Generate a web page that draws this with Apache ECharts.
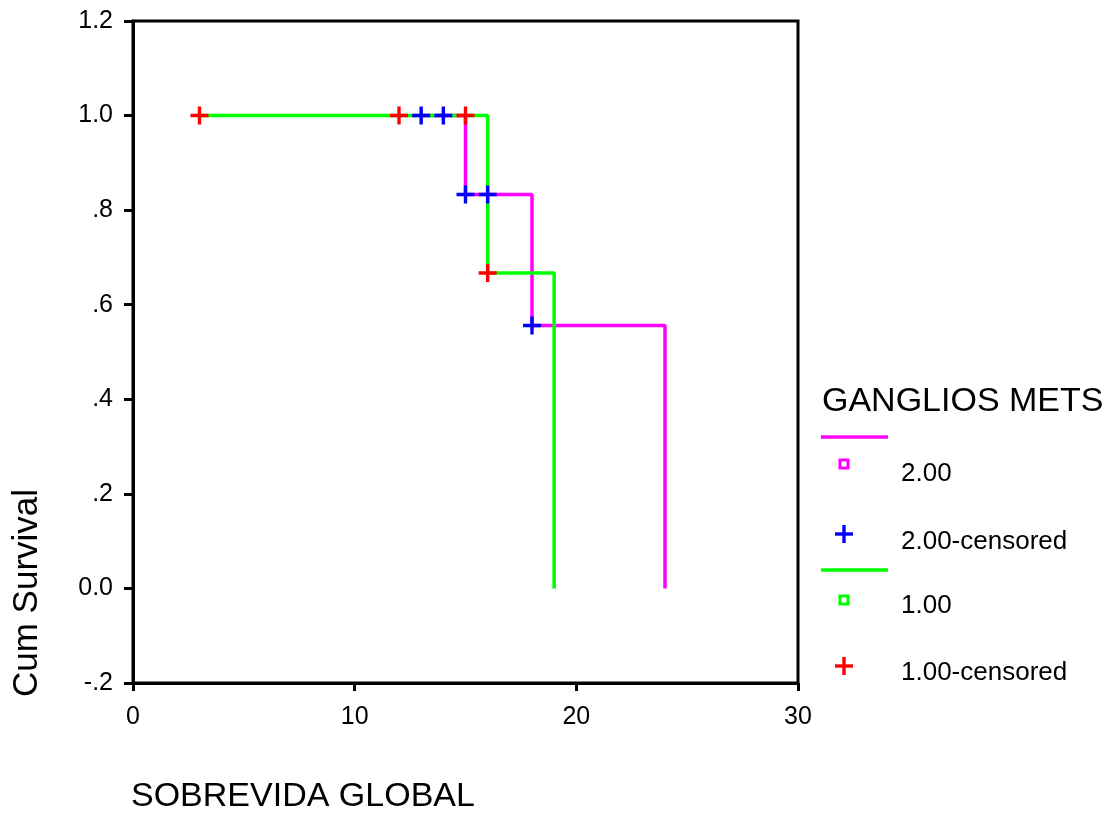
<!DOCTYPE html>
<html>
<head>
<meta charset="utf-8">
<script src="https://cdn.jsdelivr.net/npm/echarts@6/dist/echarts.min.js"></script>
<style>html,body{margin:0;padding:0;background:#fff;}#c{width:1112px;height:814px;}</style>
</head>
<body>
<div id="c"></div>
<script>
// Kaplan-Meier step points (time, cumulative survival)
const group2Curve = [[13, 1.0], [15, 0.833], [18, 0.556], [24, 0.0]];
const group1Curve = [[3, 1.0], [16, 0.667], [19, 0.0]];
// censored observations
const group2Censored = [[13, 1.0], [14, 1.0], [15, 0.833], [16, 0.833], [18, 0.556]];
const group1Censored = [[3, 1.0], [12, 1.0], [15, 1.0], [16, 0.667]];
// tick labels
const yTickValues = [-0.2, 0.0, 0.2, 0.4, 0.6, 0.8, 1.0, 1.2];
const yTickLabels = ['-.2', '0.0', '.2', '.4', '.6', '.8', '1.0', '1.2'];
const xTickLabels = ['0', '10', '20', '30'];
const legendTitle = 'GANGLIOS METS';
const legendLabels = ['2.00', '2.00-censored', '1.00', '1.00-censored'];
const xTitle = 'SOBREVIDA GLOBAL';
const yTitle = 'Cum Survival';

const FONT = "'Liberation Sans', Arial, Helvetica, sans-serif";
const MAG = '#ff00ff', GRN = '#00ff00', BLU = '#0000ff', RED = '#ff0000';
const PLUS = 'path://M-1.7,-9H1.7V-1.7H9V1.7H1.7V9H-1.7V1.7H-9V-1.7H-1.7Z';

const chart = echarts.init(document.getElementById('c'), null, {renderer: 'canvas'});

function plusShape(cx, cy, color) {
  return {
    type: 'group', x: cx, y: cy, children: [
      {type: 'rect', shape: {x: -9, y: -1.7, width: 18, height: 3.4}, style: {fill: color}},
      {type: 'rect', shape: {x: -1.7, y: -9, width: 3.4, height: 18}, style: {fill: color}}
    ]
  };
}
function squareShape(cx, cy, color) {
  return {type: 'rect', shape: {x: cx - 4, y: cy - 4, width: 8, height: 8},
    style: {fill: '#fff', stroke: color, lineWidth: 3}};
}
function lblText(x, y, t) {
  return {type: 'text', x: x, y: y, style: {text: t, font: '26px ' + FONT, fill: '#000', textVerticalAlign: 'middle'}};
}

const option = {
  backgroundColor: '#fff',
  animation: false,
  grid: {left: 133, right: 314, top: 21, bottom: 131, show: true, borderColor: '#000', borderWidth: 3, backgroundColor: 'transparent'},
  xAxis: {
    type: 'value', min: 0, max: 30, interval: 10,
    axisLine: {show: true, onZero: false, lineStyle: {color: '#000', width: 3}},
    axisTick: {show: true, length: 8, lineStyle: {color: '#000', width: 3}},
    axisLabel: {color: '#000', fontSize: 25, fontFamily: FONT, margin: 22,
      formatter: v => { const i = Math.round(v / 10); return xTickLabels[i] !== undefined ? xTickLabels[i] : ''; }},
    splitLine: {show: false}
  },
  yAxis: {
    type: 'value', min: -0.2, max: 1.2, interval: 0.2,
    axisLine: {show: true, onZero: false, lineStyle: {color: '#000', width: 3}},
    axisTick: {show: true, length: 9, lineStyle: {color: '#000', width: 3}},
    axisLabel: {color: '#000', fontSize: 25, fontFamily: FONT, margin: 20,
      formatter: v => {
        let best = 0, bd = 1e9;
        yTickValues.forEach((t, i) => { const d = Math.abs(t - v); if (d < bd) { bd = d; best = i; } });
        return yTickLabels[best];
      }},
    splitLine: {show: false}
  },
  series: [
    {type: 'line', name: '2.00', data: group2Curve, step: 'end', showSymbol: false, z: 2,
      lineStyle: {color: MAG, width: 3.5}, itemStyle: {color: MAG}},
    {type: 'line', name: '1.00', data: group1Curve, step: 'end', showSymbol: false, z: 3,
      lineStyle: {color: GRN, width: 3.5}, itemStyle: {color: GRN}},
    {type: 'scatter', name: '2.00-censored', data: group2Censored, symbol: PLUS, symbolSize: 18, z: 4,
      itemStyle: {color: BLU, opacity: 1}},
    {type: 'scatter', name: '1.00-censored', data: group1Censored, symbol: PLUS, symbolSize: 18, z: 5,
      itemStyle: {color: RED, opacity: 1}}
  ],
  graphic: [
    {type: 'text', x: 131, y: 797, style: {text: xTitle, font: '34px ' + FONT, fill: '#000', textVerticalAlign: 'middle'}},
    {type: 'text', x: 27, y: 593, rotation: Math.PI / 2,
      style: {text: yTitle, font: '35px ' + FONT, fill: '#000', textAlign: 'center', textVerticalAlign: 'middle'}},
    {type: 'text', x: 822, y: 402, style: {text: legendTitle, font: '34px ' + FONT, fill: '#000', textVerticalAlign: 'middle'}},
    {type: 'line', shape: {x1: 821, y1: 437, x2: 888, y2: 437}, style: {stroke: MAG, lineWidth: 3.5}},
    squareShape(844, 464, MAG),
    lblText(901, 474, legendLabels[0]),
    plusShape(844, 534, BLU),
    lblText(901, 542, legendLabels[1]),
    {type: 'line', shape: {x1: 821, y1: 570, x2: 888, y2: 570}, style: {stroke: GRN, lineWidth: 3.5}},
    squareShape(844, 600, GRN),
    lblText(901, 606, legendLabels[2]),
    plusShape(844, 666, RED),
    lblText(901, 673, legendLabels[3])
  ]
};
chart.setOption(option);
</script>
</body>
</html>
